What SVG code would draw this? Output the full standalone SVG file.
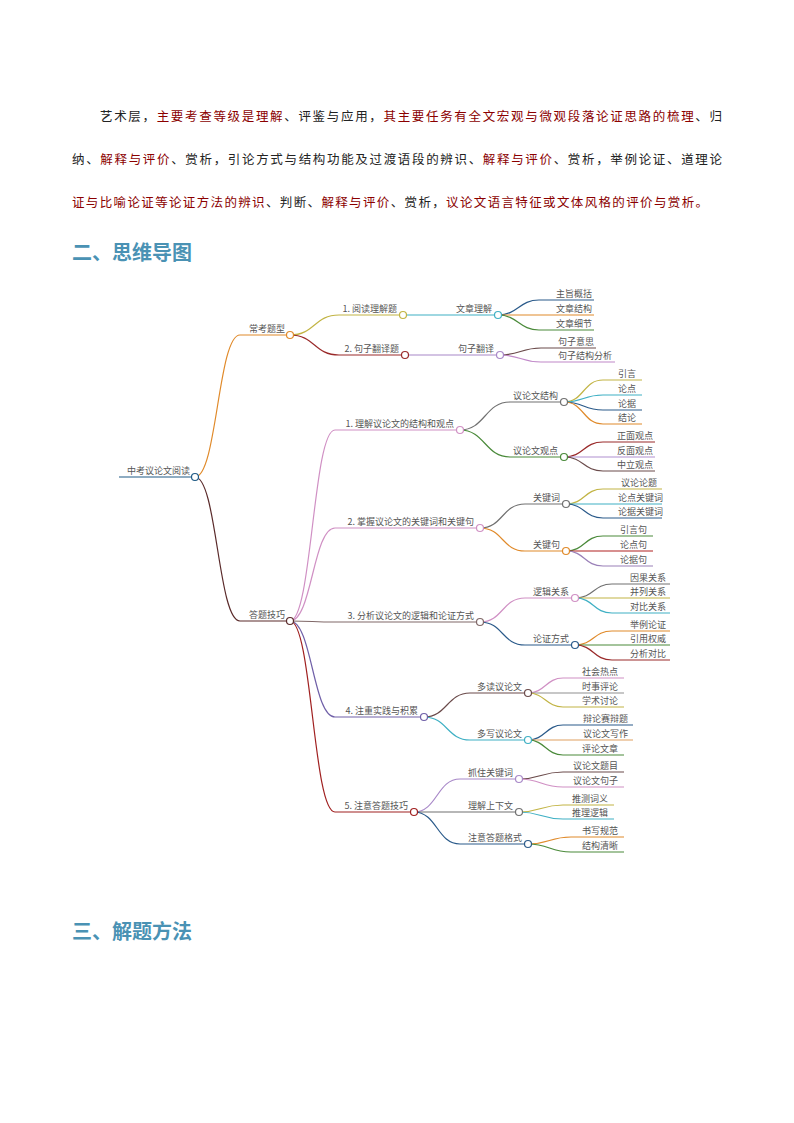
<svg xmlns="http://www.w3.org/2000/svg" width="794" height="1123" viewBox="0 0 794 1123">
<style>
.p{font-family:"Liberation Sans","Noto Sans CJK SC",sans-serif;font-size:12.5px}
.bk{fill:#222}.rd{fill:#8b0000}
.h{font-family:"Noto Sans CJK SC",sans-serif;font-size:20px;font-weight:bold;fill:#4a92b4}
.t{font-family:"Noto Sans CJK SC",sans-serif;font-size:9px;fill:#555;text-anchor:end}
.e{fill:none;stroke-width:1.2}
circle{fill:#fff;stroke-width:1.2}
</style>
<rect width="794" height="1123" fill="#fff"/>
<text class="p" x="100" y="121" textLength="622"><tspan class="bk">艺术层，</tspan><tspan class="rd">主要考查等级是理解</tspan><tspan class="bk">、评鉴与应用，</tspan><tspan class="rd">其主要任务有全文宏观与微观段落论证思路的梳理</tspan><tspan class="bk">、归</tspan></text>
<text class="p" x="72" y="164" textLength="650"><tspan class="bk">纳、</tspan><tspan class="rd">解释与评价</tspan><tspan class="bk">、赏析，引论方式与结构功能及过渡语段的辨识、</tspan><tspan class="rd">解释与评价</tspan><tspan class="bk">、赏析，举例论证、道理论</tspan></text>
<text class="p" x="72" y="207" textLength="636"><tspan class="rd">证与比喻论证等论证方法的辨识</tspan><tspan class="bk">、判断、</tspan><tspan class="rd">解释与评价</tspan><tspan class="bk">、赏析，</tspan><tspan class="rd">议论文语言特征或文体风格的评价与赏析。</tspan></text>
<text class="h" x="72" y="260">二、思维导图</text>
<text class="h" x="72" y="939">三、解题方法</text>

<g id="connectors">
<path class="e" d="M119 477H195" stroke="#1f5a85" stroke-width="2.5"/>
<path class="e" stroke="#e08a2a" d="M195 477C217 477 218 335 240 335H290"/>
<path class="e" stroke="#5a2a2a" d="M195 477C217 477 218 621 240 621H290"/>
<path class="e" stroke="#c2b444" d="M290 335C315 335 314 315 339 315H403"/>
<path class="e" stroke="#9a2a2a" d="M290 335C315 335 314 355 339 355H405"/>
<path class="e" stroke="#3fb0c4" d="M403 315H498"/>
<path class="e" stroke="#a888c8" d="M405 355H500"/>
<path class="e" stroke="#2a5a8a" d="M498 315C518 315 519 300 539 300H594"/>
<path class="e" stroke="#e08a2a" d="M498 315H594"/>
<path class="e" stroke="#4a8a3a" d="M498 315C518 315 519 330 539 330H594"/>
<path class="e" stroke="#6a4a4a" d="M500 355C520 355 521 348 541 348H596"/>
<path class="e" stroke="#c088c8" d="M500 355C520 355 521 362 541 362H615"/>
<path class="e" stroke="#d090c4" d="M290 621C312 621 313 430 335 430H460"/>
<path class="e" stroke="#d090c4" d="M290 621C312 621 313 528 335 528H480"/>
<path class="e" stroke="#806868" d="M290 621C312 621 313 622 335 622H480"/>
<path class="e" stroke="#7060a8" d="M290 621C312 621 313 717 335 717H424"/>
<path class="e" stroke="#a02020" d="M290 621C312 621 313 812 335 812H414"/>
<path class="e" stroke="#707070" d="M460 430C485 430 485 402 510 402H564"/>
<path class="e" stroke="#4a8a3a" d="M460 430C485 430 485 457 510 457H564"/>
<path class="e" stroke="#c2b444" d="M564 402C584 402 583 380 603 380H642"/>
<path class="e" stroke="#3fb0c4" d="M564 402C584 402 583 395 603 395H642"/>
<path class="e" stroke="#2a5a8a" d="M564 402C584 402 583 410 603 410H642"/>
<path class="e" stroke="#e08a2a" d="M564 402C584 402 583 424 603 424H642"/>
<path class="e" stroke="#9a2a2a" d="M564 457C584 457 583 442 603 442H655"/>
<path class="e" stroke="#b090d0" d="M564 457H655"/>
<path class="e" stroke="#6a4a4a" d="M564 457C584 457 583 471 603 471H655"/>
<path class="e" stroke="#707070" d="M480 528C503 528 502 504 525 504H566"/>
<path class="e" stroke="#e08a2a" d="M480 528C503 528 502 551 525 551H566"/>
<path class="e" stroke="#c2b444" d="M566 504C585 504 584 489 603 489H662"/>
<path class="e" stroke="#3fb0c4" d="M566 504H662"/>
<path class="e" stroke="#2a5a8a" d="M566 504C585 504 584 518 603 518H662"/>
<path class="e" stroke="#4a8a3a" d="M566 551C585 551 584 536 603 536H653"/>
<path class="e" stroke="#b02020" d="M566 551H653"/>
<path class="e" stroke="#9a80b8" d="M566 551C585 551 584 566 603 566H653"/>
<path class="e" stroke="#d090c4" d="M480 622C503 622 502 598 525 598H575"/>
<path class="e" stroke="#2a5a8a" d="M480 622C503 622 502 645 525 645H575"/>
<path class="e" stroke="#707070" d="M575 598C594 598 593 584 612 584H670"/>
<path class="e" stroke="#c2b444" d="M575 598H670"/>
<path class="e" stroke="#3fb0c4" d="M575 598C594 598 593 613 612 613H670"/>
<path class="e" stroke="#e08a2a" d="M575 645C594 645 593 631 612 631H670"/>
<path class="e" stroke="#4a8a3a" d="M575 645H670"/>
<path class="e" stroke="#9a2a2a" d="M575 645C594 645 593 660 612 660H670"/>
<path class="e" stroke="#6a4a4a" d="M424 717C447 717 447 693 470 693H528"/>
<path class="e" stroke="#3fb0c4" d="M424 717C447 717 447 740 470 740H528"/>
<path class="e" stroke="#d090c4" d="M528 693C545 693 546 678 563 678H624"/>
<path class="e" stroke="#909090" d="M528 693H624"/>
<path class="e" stroke="#c2b444" d="M528 693C545 693 546 707 563 707H624"/>
<path class="e" stroke="#2a5a8a" d="M528 740C545 740 546 725 563 725H633"/>
<path class="e" stroke="#e0a060" d="M528 740H633"/>
<path class="e" stroke="#4a8a3a" d="M528 740C545 740 546 755 563 755H624"/>
<path class="e" stroke="#a888c8" d="M414 812C437 812 437 779 460 779H519"/>
<path class="e" stroke="#707070" d="M414 812H519"/>
<path class="e" stroke="#2a5a8a" d="M414 812C437 812 437 844 460 844H528"/>
<path class="e" stroke="#6a4a4a" d="M519 779C541 779 541 772 563 772H624"/>
<path class="e" stroke="#d090c4" d="M519 779C541 779 541 787 563 787H624"/>
<path class="e" stroke="#c2b444" d="M519 812C541 812 541 805 563 805H614"/>
<path class="e" stroke="#3fb0c4" d="M519 812C541 812 541 819 563 819H614"/>
<path class="e" stroke="#e08a2a" d="M528 844C549 844 550 837 571 837H624"/>
<path class="e" stroke="#4a8a3a" d="M528 844C549 844 550 852 571 852H624"/>
</g>

<g id="root"><text class="t" x="190" y="474">中考议论文阅读</text><circle cx="195" cy="477" r="3.5" stroke="#1f5a85"/></g>
<g id="n1"><text class="t" x="285" y="332">常考题型</text><circle cx="290" cy="335" r="3.5" stroke="#e08a2a"/></g>
<g id="n2"><text class="t" x="285" y="618">答题技巧</text><circle cx="290" cy="621" r="3.5" stroke="#5a2a2a"/></g>
<g id="n11"><text class="t" x="397" y="312">1. 阅读理解题</text><circle cx="403" cy="315" r="3.5" stroke="#c2b444"/></g>
<g id="n12"><text class="t" x="399" y="352">2. 句子翻译题</text><circle cx="405" cy="355" r="3.5" stroke="#9a2a2a"/></g>
<g id="n111"><text class="t" x="492" y="312">文章理解</text><circle cx="498" cy="315" r="3.5" stroke="#3fb0c4"/></g>
<g id="n121"><text class="t" x="494" y="352">句子翻译</text><circle cx="500" cy="355" r="3.5" stroke="#a888c8"/></g>
<g id="l1"><text class="t" x="592" y="297">主旨概括</text><text class="t" x="592" y="312">文章结构</text><text class="t" x="592" y="327">文章细节</text><text class="t" x="594" y="345">句子意思</text><text class="t" x="612" y="359">句子结构分析</text></g>
<g id="n21"><text class="t" x="454" y="427">1. 理解议论文的结构和观点</text><circle cx="460" cy="430" r="3.5" stroke="#d090c4"/></g>
<g id="n22"><text class="t" x="474" y="525">2. 掌握议论文的关键词和关键句</text><circle cx="480" cy="528" r="3.5" stroke="#d090c4"/></g>
<g id="n23"><text class="t" x="474" y="619">3. 分析议论文的逻辑和论证方式</text><circle cx="480" cy="622" r="3.5" stroke="#806868"/></g>
<g id="n24"><text class="t" x="418" y="714">4. 注重实践与积累</text><circle cx="424" cy="717" r="3.5" stroke="#7060a8"/></g>
<g id="n25"><text class="t" x="408" y="809">5. 注意答题技巧</text><circle cx="414" cy="812" r="3.5" stroke="#a02020"/></g>
<g id="n211"><text class="t" x="558" y="399">议论文结构</text><circle cx="564" cy="402" r="3.5" stroke="#707070"/></g>
<g id="n212"><text class="t" x="558" y="454">议论文观点</text><circle cx="564" cy="457" r="3.5" stroke="#4a8a3a"/></g>
<g id="n221"><text class="t" x="560" y="501">关键词</text><circle cx="566" cy="504" r="3.5" stroke="#707070"/></g>
<g id="n222"><text class="t" x="560" y="548">关键句</text><circle cx="566" cy="551" r="3.5" stroke="#e08a2a"/></g>
<g id="n231"><text class="t" x="569" y="595">逻辑关系</text><circle cx="575" cy="598" r="3.5" stroke="#d090c4"/></g>
<g id="n232"><text class="t" x="569" y="642">论证方式</text><circle cx="575" cy="645" r="3.5" stroke="#2a5a8a"/></g>
<g id="n241"><text class="t" x="522" y="690">多读议论文</text><circle cx="528" cy="693" r="3.5" stroke="#6a4a4a"/></g>
<g id="n242"><text class="t" x="522" y="737">多写议论文</text><circle cx="528" cy="740" r="3.5" stroke="#3fb0c4"/></g>
<g id="n251"><text class="t" x="513" y="776">抓住关键词</text><circle cx="519" cy="779" r="3.5" stroke="#a888c8"/></g>
<g id="n252"><text class="t" x="513" y="809">理解上下文</text><circle cx="519" cy="812" r="3.5" stroke="#707070"/></g>
<g id="n253"><text class="t" x="522" y="841">注意答题格式</text><circle cx="528" cy="844" r="3.5" stroke="#2a5a8a"/></g>
<g id="l2">
<text class="t" x="636" y="377">引言</text><text class="t" x="636" y="392">论点</text><text class="t" x="636" y="407">论据</text><text class="t" x="636" y="421">结论</text>
<text class="t" x="653" y="439">正面观点</text><text class="t" x="653" y="454">反面观点</text><text class="t" x="653" y="468">中立观点</text>
<text class="t" x="657" y="486">议论论题</text><text class="t" x="663" y="501">论点关键词</text><text class="t" x="663" y="515">论据关键词</text>
<text class="t" x="647" y="533">引言句</text><text class="t" x="647" y="548">论点句</text><text class="t" x="647" y="563">论据句</text>
<text class="t" x="666" y="581">因果关系</text><text class="t" x="666" y="595">并列关系</text><text class="t" x="666" y="610">对比关系</text>
<text class="t" x="666" y="628">举例论证</text><text class="t" x="666" y="642">引用权威</text><text class="t" x="666" y="657">分析对比</text>
<text class="t" x="618" y="675">社会热点</text><text class="t" x="618" y="690">时事评论</text><text class="t" x="618" y="704">学术讨论</text>
<text class="t" x="628" y="722">辩论赛辩题</text><text class="t" x="628" y="737">议论文写作</text><text class="t" x="618" y="752">评论文章</text>
<text class="t" x="618" y="769">议论文题目</text><text class="t" x="618" y="784">议论文句子</text>
<text class="t" x="608" y="802">推测词义</text><text class="t" x="608" y="816">推理逻辑</text>
<text class="t" x="618" y="834">书写规范</text><text class="t" x="618" y="849">结构清晰</text>
</g>
</svg>
